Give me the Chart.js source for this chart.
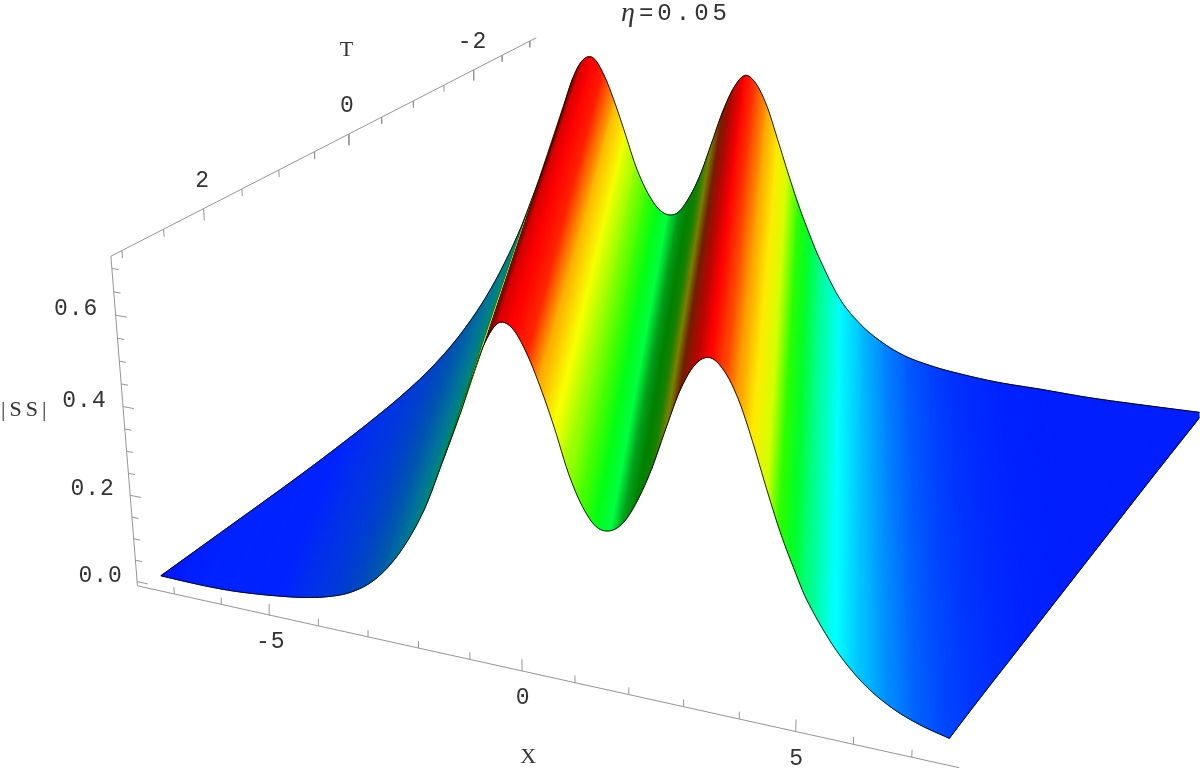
<!DOCTYPE html>
<html>
<head>
<meta charset="utf-8">
<title>eta=0.05</title>
<script src="https://cdn.jsdelivr.net/npm/chart.js@4"></script>
<style>
  html, body { margin: 0; padding: 0; background: #fff; }
  canvas { display: block; }
</style>
</head>
<body>
<canvas id="surface" width="1200" height="769"></canvas>
<script>
///// stations across the wave, u = X - T
const stationU = [-10.5,-10,-9.5,-9,-8.5,-8,-7.5,-7,-6.5,-6,-5.5,-5,-4.6,-4.25,-4,-3.75,-3.5,-3.25,-3,-2.75,-2.5,-2.25,-2,-1.75,-1.5,-1.25,-1,-0.75,-0.5,-0.25,0,0.25,0.5,0.75,1,1.25,1.5,1.75,2,2.5,3,3.5,4,4.5,5,6,7,8,9,10.4];
///// |SS| where each station meets the near border (T=3, then X=7.5)
const ssNear = [0.004,0.003,0.003,0.005,0.010,0.017,0.026,0.040,0.063,0.105,0.176,0.280,0.397,0.503,0.587,0.662,0.706,0.701,0.657,0.590,0.510,0.420,0.356,0.319,0.316,0.340,0.392,0.463,0.552,0.636,0.690,0.708,0.686,0.634,0.556,0.468,0.385,0.315,0.252,0.164,0.103,0.064,0.040,0.025,0.028,0.030,0.032,0.034,0.036,0.036];
///// |SS| where each station meets the far border (X=-7.5, then T=-2.9)
const ssFar = [0.004,0.007,0.010,0.013,0.017,0.023,0.031,0.043,0.064,0.102,0.164,0.260,0.368,0.477,0.564,0.650,0.703,0.712,0.672,0.606,0.528,0.447,0.388,0.348,0.332,0.342,0.384,0.446,0.530,0.616,0.682,0.716,0.698,0.646,0.568,0.487,0.410,0.342,0.280,0.180,0.120,0.082,0.057,0.044,0.036,0.028,0.028,0.027,0.030,0.036];
///// colour read on each station: hue in degrees, then brightness
const stationHue = [235,233,232,232,232,232,228,225,220,210,195,175,150,105,62,5,0,0,8,42,62,85,105,125,135,130,120,110,65,15,2,0,15,38,55,70,110,130,150,180,195,208,218,224,228,232,233,233,233,233];
const stationShade = [1,1,1,1,1,1,0.93,0.87,0.78,0.68,0.6,0.52,0.48,0.6,0.85,0.4,0.85,1,1,1,1,1,1,1,1,0.62,0.5,0.5,0.5,0.45,0.7,1,1,1,1,1,1,1,1,1,1,1,1,1,1,1,1,1,1,1];

///// axes
const xTicks = [-7,-6,-5,-4,-3,-2,-1,0,1,2,3,4,5,6,7];
const xLabels = [-5,0,5];
const tTicks = [-3,-2.5,-2,-1.5,-1,-0.5,0,0.5,1,1.5,2,2.5,3];
const tLabels = [-2,0,2];
const zTicks = [0,0.05,0.1,0.15,0.2,0.25,0.3,0.35,0.4,0.45,0.5,0.55,0.6,0.65,0.7];
const zLabels = [0,0.2,0.4,0.6];

///// limits of the surface and of the box
const surfNearT = 3, surfFarT = -2.9, surfX = 7.5;
const boxXmin = -7.79, boxXmax = 7.8, boxTfront = 3.13, boxTback = -3.12, boxZbottom = -0.01, boxZtop = 0.726;

///// camera of the 3D box, fitted on the ticks
function project(X, T, z) {
    const Z = z + 0.01;
    const w = 1 - 0.00718 * X - 0.0373 * T - 0.0656 * Z;
    return {
        x: (42.66 * X - 80.68 * T - 41.2 * Z + 713.6) / w,
        y: (5.457 * X + 29.79 * T - 437.9 * Z + 499.7) / w
    };
}

function nearAt(u, z) {
    const T = Math.min(surfNearT, surfX - u);
    return project(u + T, T, z);
}
function farAt(u, z) {
    const T = Math.max(surfFarT, -surfX - u);
    return project(u + T, T, z);
}

///// smooth drawing of a border between two stations, corner = station where the border turns
function slopeAt(v, i, side, corner) {
    const U = stationU;
    if (i === 0 || (i === corner && side > 0)) return (v[i + 1] - v[i]) / (U[i + 1] - U[i]);
    if (i === U.length - 1 || (i === corner && side < 0)) return (v[i] - v[i - 1]) / (U[i] - U[i - 1]);
    return (v[i + 1] - v[i - 1]) / (U[i + 1] - U[i - 1]);
}
function borderSpan(v, i, corner, at, steps) {
    const h = stationU[i + 1] - stationU[i];
    const m0 = slopeAt(v, i, 1, corner), m1 = slopeAt(v, i + 1, -1, corner);
    let pts = [];
    for (let k = 0; k <= steps; k++) {
        const s = k / steps;
        const z = (2*s*s*s - 3*s*s + 1) * v[i] + (s*s*s - 2*s*s + s) * h * m0
                + (-2*s*s*s + 3*s*s) * v[i + 1] + (s*s*s - s*s) * h * m1;
        pts.push(at(stationU[i] + s * h, z));
    }
    return pts;
}
const nearCorner = stationU.indexOf(4.5), farCorner = stationU.indexOf(-4.6);
const nearSpan = (i) => borderSpan(ssNear, i, nearCorner, nearAt, 6);
const farSpan = (i) => borderSpan(ssFar, i, farCorner, farAt, 6);

function hsv(h, v) {
    let c = (n) => {
        const k = (n + h / 60) % 6;
        return Math.round(255 * v * (1 - Math.max(0, Math.min(k, 4 - k, 1))));
    };
    return "rgb(" + c(5) + "," + c(3) + "," + c(1) + ")";
}

///// gradient across one strip, perpendicular to its long side
function stripGradient(i) {
    return (ctx) => {
        const sx = ctx.chart.scales.x, sy = ctx.chart.scales.y;
        const px = (p) => ({ x: sx.getPixelForValue(p.x), y: sy.getPixelForValue(p.y) });
        const a = px(nearAt(stationU[i], ssNear[i])), b = px(farAt(stationU[i], ssFar[i]));
        const c = px(nearAt(stationU[i + 1], ssNear[i + 1])), d = px(farAt(stationU[i + 1], ssFar[i + 1]));
        if (!isFinite(a.x) || !isFinite(a.y)) return hsv(stationHue[i], stationShade[i]); // scales not ready yet
        let dx = (b.x - a.x) + (d.x - c.x), dy = (b.y - a.y) + (d.y - c.y);
        const len = Math.hypot(dx, dy) || 1;
        const nx = -dy / len, ny = dx / len;
        const m0 = { x: (a.x + b.x) / 2, y: (a.y + b.y) / 2 };
        const m1 = { x: (c.x + d.x) / 2, y: (c.y + d.y) / 2 };
        const s = (m1.x - m0.x) * nx + (m1.y - m0.y) * ny;
        const g = ctx.chart.ctx.createLinearGradient(m0.x, m0.y, m0.x + nx * s, m0.y + ny * s);
        g.addColorStop(0, hsv(stationHue[i], stationShade[i]));
        g.addColorStop(1, hsv(stationHue[i + 1], stationShade[i + 1]));
        return g;
    };
}

///// datasets
let datasets = [];
const nStrips = stationU.length - 1;
let nearLine = [], farLine = [];
for (let i = 0; i < nStrips; i++) {
    const grad = stripGradient(i);
    const n = nearSpan(i), f = farSpan(i);
    nearLine.push(...n);
    farLine.push(...f);
    datasets.push({
        data: [...n, ...f.slice().reverse(), n[0]],
        showLine: true,
        fill: "shape",
        backgroundColor: grad,
        borderColor: grad,
        borderWidth: 1,
        pointRadius: 0,
        order: nStrips - i + 5
    });
}

///// border of the surface
datasets.push({ data: [...nearLine, ...farLine.reverse()], showLine: true, borderColor: "rgba(0,0,0,0.85)", borderWidth: 1, pointRadius: 0, order: 3 });

///// box lines and ticks, gaps are NaN points
const gap = { x: NaN, y: NaN };
let axisPts = [
    project(boxXmin, boxTfront, boxZbottom), project(boxXmax, boxTfront, boxZbottom), gap,
    project(boxXmin, boxTfront, boxZbottom), project(boxXmin, boxTfront, boxZtop), project(boxXmin, boxTback, boxZtop), gap
];
xTicks.forEach((x) => {
    const h = xLabels.includes(x) ? 0.026 : 0.016;
    axisPts.push(project(x, boxTfront, boxZbottom), project(x, boxTfront, boxZbottom + h), gap);
});
tTicks.forEach((t) => {
    const h = tLabels.includes(t) ? 0.026 : 0.016;
    axisPts.push(project(boxXmin, t, boxZtop), project(boxXmin, t, boxZtop - h), gap);
});
zTicks.forEach((z) => {
    const h = zLabels.includes(z) ? 0.23 : 0.14;
    axisPts.push(project(boxXmin, boxTfront, z), project(boxXmin + h, boxTfront, z), gap);
});
datasets.push({ data: axisPts, showLine: true, spanGaps: false, borderColor: "#959595", borderWidth: 1, pointRadius: 0, order: 1 });

///// text of the axes
const textPlugin = {
    id: "boxText",
    afterDraw(chart) {
        const c = chart.ctx;
        const sx = chart.scales.x, sy = chart.scales.y;
        const put = (txt, p, ox, oy, font, spacing) => {
            c.font = font;
            c.letterSpacing = spacing;
            c.fillText(txt, sx.getPixelForValue(p.x) + ox, sy.getPixelForValue(p.y) + oy);
        };
        c.save();
        c.fillStyle = "#333";
        c.textAlign = "center";
        c.textBaseline = "middle";
        const tickFont = "23px 'Liberation Mono'";
        const nameFont = "22px 'Liberation Serif'";
        xLabels.forEach((x) => put(String(x), project(x, boxTfront, boxZbottom), 1, 27, tickFont, "1px"));
        tLabels.forEach((t) => put(String(t), project(boxXmin, t, boxZtop), -1, -28, tickFont, "1px"));
        zLabels.forEach((z) => put(z.toFixed(1), project(boxXmin, boxTfront, z), -36.5 - 5 * z, -6, tickFont, "1px"));
        put("X", project(0, boxTfront, boxZbottom), 6, 86, nameFont, "0px");
        put("T", project(boxXmin, 0, boxZtop), -2, -84, nameFont, "0px");
        put("|SS|", project(boxXmin, boxTfront, 0.38), -98, -5, nameFont, "4px");
        c.textAlign = "left";
        put("=0.05", { x: 639, y: 12 }, 0, 1, "24px 'Liberation Mono'", "4px");
        put("\u03b7", { x: 621, y: 12 }, 0, 1, "italic 28px 'Liberation Serif'", "0px");
        c.restore();
    }
};

///// chart
let chart = new Chart(document.getElementById("surface"), {
    type: "scatter",
    data: { datasets: datasets },
    options: {
        responsive: false,
        animation: false,
        layout: { padding: 0 },
        events: [],
        plugins: { legend: { display: false }, tooltip: { enabled: false }, title: { display: false } },
        scales: {
            x: { type: "linear", min: 0, max: 1200, display: false },
            y: { type: "linear", min: 0, max: 769, reverse: true, display: false }
        }
    },
    plugins: [textPlugin]
});
chart.update();
</script>
</body>
</html>
